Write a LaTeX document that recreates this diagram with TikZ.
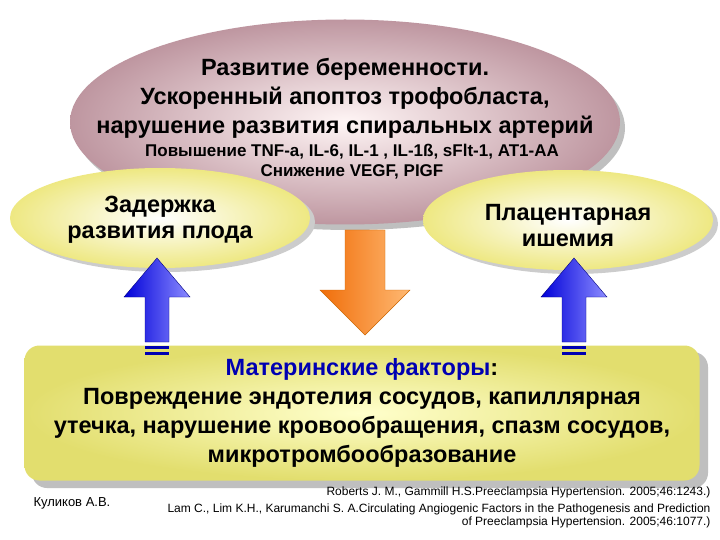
\documentclass[tikz,border=0pt]{standalone}
\usepackage{fontspec}
\setmainfont{Liberation Sans}
\usetikzlibrary{shapes.geometric}
\definecolor{mauve}{RGB}{190,150,160}
\definecolor{ylw}{RGB}{238,232,130}
\definecolor{ylw2}{RGB}{226,222,110}
\definecolor{org}{RGB}{240,110,10}
\begin{document}
\begin{tikzpicture}[x=1pt,y=-1pt,
 oval/.style={ellipse, draw=none},
 bluearr/.style={draw=blue!50!black, left color=blue!85!black, right color=blue!45},
 t/.style={align=center}]
\useasboundingbox (0,0) rectangle (720,540);
\fill[white] (0,0) rectangle (720,540);
\fill[black!25] (350,128) ellipse (275 and 102);
\node[oval, minimum width=550, minimum height=205, inner color=white!85!pink, outer color=mauve] (top) at (345,122) {};
\fill[black!20] (165,222) ellipse (150 and 50);
\node[oval, minimum width=300, minimum height=100, inner color=white, outer color=ylw] (lft) at (160,218) {};
\fill[black!20] (573,224) ellipse (145 and 50);
\node[oval, minimum width=290, minimum height=100, inner color=white, outer color=ylw] (rgt) at (568,220) {};
\fill[black!25, rounded corners=15] (32,352) rectangle (708,488);
\node[draw=none, rounded corners=15, minimum width=675, minimum height=135, inner color=white!80!yellow, outer color=ylw2] (bot) at (362,413) {};
\node[t, font=\bfseries\fontsize{23.5}{29}\selectfont] (tt) at (345,98) {Развитие беременности.\\Ускоренный апоптоз трофобласта,\\нарушение развития спиральных артерий};
\node[t, font=\bfseries\fontsize{17}{20}\selectfont] (ts) at (352,162) {Повышение TNF-a, IL-6, IL-1 , IL-1ß, sFlt-1, AT1-AA\\Снижение VEGF, PIGF};
\node[t, font=\bfseries\fontsize{23.5}{26}\selectfont] (lt) at (160,220) {Задержка\\развития плода};
\node[t, font=\bfseries\fontsize{23.5}{26}\selectfont] (rt) at (568,226) {Плацентарная\\ишемия};
\node[t, font=\bfseries\fontsize{23.5}{29}\selectfont] (bt) at (362,413) {\textcolor{blue!70!black}{Материнские факторы}:\\Повреждение эндотелия сосудов, капиллярная\\утечка, нарушение кровообращения, спазм сосудов,\\микротромбообразование};
\foreach \x/\n in {157/ua,574/ub}{
 \path[bluearr] (\x-12,342) -- (\x-12,297) -- (\x-33,297) -- (\x,258) -- (\x+33,297) -- (\x+12,297) -- (\x+12,342) -- cycle;
 \fill[blue!70!black] (\x-12,346) rectangle (\x+12,349);
 \fill[blue!70!black] (\x-12,352) rectangle (\x+12,355);
 \coordinate (\n) at (\x,258);}
\path[draw=orange!80!black, left color=org, right color=orange!55] (345,230) -- (385,230) -- (385,290) -- (410,290) -- (365,335) -- (320,290) -- (345,290) -- cycle;
\coordinate (da) at (365,335);
\node[font=\fontsize{13}{15}\selectfont, anchor=west] (au) at (30,503) {Куликов А.В.};
\node[font=\fontsize{12}{13.5}\selectfont, anchor=east] (r1) at (714,492) {Roberts J. M., Gammill H.S.Preeclampsia Hypertension. 2005;46:1243.)};
\node[font=\fontsize{12}{13.5}\selectfont, anchor=east, align=right] (r2) at (714,516) {Lam C., Lim K.H., Karumanchi S. A.Circulating Angiogenic Factors in the Pathogenesis and Prediction\\of Preeclampsia Hypertension. 2005;46:1077.)};
\end{tikzpicture}
\end{document}
